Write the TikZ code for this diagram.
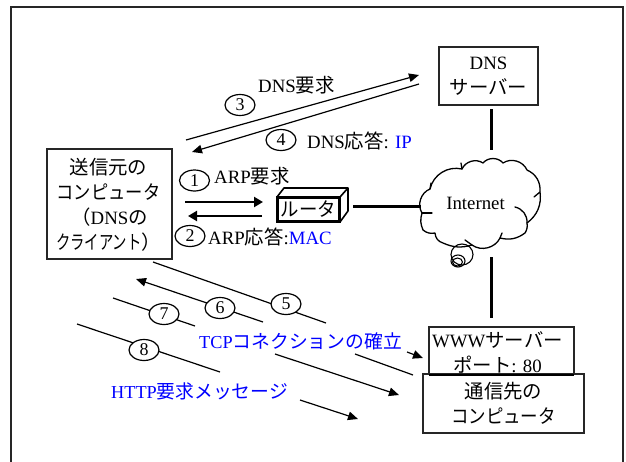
\documentclass[tikz,border=0pt]{standalone}
\usepackage{fontspec}
\setmainfont[Scale=0.97]{Liberation Serif}
\newfontfamily\jpf{Noto Sans CJK JP}
\usetikzlibrary{shapes.geometric,arrows.meta}
\newcommand{\J}[1]{{\jpf #1}}
\newcommand{\JX}[2]{\scalebox{#1}[1]{\jpf #2}}
\newcommand{\Dg}[1]{\raisebox{-2.5pt}{#1}}
\definecolor{tblue}{RGB}{0,0,255}
\tikzset{
  lab/.style={inner sep=0pt,font=\fontsize{19.4}{25}\selectfont,align=center},
  bluelab/.style={inner sep=0pt,font=\fontsize{18.8}{25}\selectfont,align=center,text=tblue},
  box/.style={draw=black!85,line width=1.4pt,fill=white,inner sep=0pt},
  num/.style={ellipse,draw=black,line width=1.2pt,fill=white,inner sep=0pt,minimum width=30pt,minimum height=21pt,font=\fontsize{18.5}{20}\selectfont},
  thin arrow/.style={line width=1.2pt,-{Triangle[length=10pt,width=8.5pt]}},
  thin line/.style={line width=1.2pt},
  thick arrow/.style={line width=2.4pt,-{Triangle[length=9pt,width=10pt]}},
  wire/.style={line width=3pt},
  cloudline/.style={line width=1.3pt,line join=round,line cap=round}
}
\begin{document}
\begin{tikzpicture}[x=1pt,y=-1pt]
\useasboundingbox (0,0) rectangle (626,461);
\fill[white] (0,0) rectangle (626,461);
% frame
\draw[line width=1.5pt,black!85] (11,470) -- (11,7) -- (623,7) -- (623,470);
\clip (0,0) rectangle (626,461);

% boxes
\node[box,minimum width=125pt,minimum height=110pt] (src) at (109.5,204) {};
\node[lab] (srct) at (108.5,204.5) {\J{送信元の}\\\JX{0.89}{コンピュータ}\\\hspace*{2pt}\J{（}DNS\J{の}\\\JX{0.74}{クライアント}\J{）}};
\node[box,minimum width=99pt,minimum height=58pt,lab,box] (dns) at (488.5,76) {DNS\\\J{サーバー}};
\node[box,minimum width=145pt,minimum height=48pt] (www) at (501.5,351) {};
\node[lab] (wwwt) at (497.5,352.5) {WWW\J{サーバー}\\\J{ポート}: 80};
\node[box,minimum width=161pt,minimum height=59pt,lab,box] (dst) at (503.5,403.5) {\J{通信先の}\\\JX{0.9}{コンピュータ}};
\draw[line width=2pt] (429,375) -- (574,375);

% router
\draw[line width=1.6pt,fill=white,line join=round] (277,197) -- (284,188) -- (348,188) -- (348,211) -- (340,222);
\draw[line width=1.6pt] (340,197) -- (348,188);
\node[draw=black,line width=2.6pt,fill=white,inner sep=0pt,minimum width=62pt,minimum height=24pt,lab] (rt) at (308.5,209.5) {\JX{0.95}{ルータ}};

% cloud
\coordinate (cw) at (421,206);
\coordinate (cn) at (491,150);
\coordinate (cs) at (491,257);
\node[lab] (net) at (475.5,203) {Internet};
\draw[cloudline] (422,213) to[bend left=50] (430,189)
  to[bend left=45] (462,169) to[bend left=50] (483,163)
  to[bend left=50] (503,163) to[bend left=50] (527,170)
  to[bend left=35] (540,192) to[bend left=30] (527,223)
  to[bend left=20] (525,233) to[bend left=25] (500,238)
  to[bend left=50] (472,245) to[bend left=20] (443,243)
  to[bend left=35] (435,233) to[bend left=25] (423,230)
  to[bend left=20] (422,213);
\draw[cloudline] (422,213) -- (432,213);
\draw[cloudline] (430,189) -- (431,183);
\draw[cloudline] (462,169) -- (461,163);
\draw[cloudline] (515,207) to[bend left=40] (527,223);
\draw[cloudline] (500,238) -- (502,233);
\draw[cloudline] (540,192) -- (534,197);
\draw[cloudline] (465,240) -- (472,245);
\draw[line width=1.1pt] (462,254.5) circle[x radius=11pt,y radius=10.5pt];
\draw[line width=1.1pt] (458,261) circle[x radius=7pt,y radius=6pt];
\draw[line width=1.1pt] (457.5,262) circle[x radius=5pt,y radius=4pt];

% wires
\coordinate (dnsw) at (491,109);
\coordinate (wwwn) at (491,318);
\coordinate (rte) at (353,206);
\draw[wire] (dnsw) -- (cn);
\draw[wire] (cs) -- (wwwn);
\draw[wire] (rte) -- (cw);

% DNS arrows
\coordinate (a3s) at (186,140);
\coordinate (a3e) at (419,75);
\coordinate (a4s) at (419,84);
\coordinate (a4e) at (192,152);
\draw[thin arrow] (a3s) -- (a3e);
\draw[thin arrow] (a4s) -- (a4e);

% ARP arrows
\coordinate (a1s) at (185,202);
\coordinate (a1e) at (263,202);
\coordinate (a2s) at (262,216);
\coordinate (a2e) at (188,216);
\draw[thick arrow] (a1s) -- (a1e);
\draw[thick arrow] (a2s) -- (a2e);

% diagonal arrows
\coordinate (a5s) at (153,262); \coordinate (a5m) at (326,323);
\coordinate (a5r) at (407,352); \coordinate (a5e) at (423,358);
\draw[thin line] (a5s) -- (a5m);
\draw[thin arrow] (a5r) -- (a5e);
\coordinate (a6s) at (263,322); \coordinate (a6e) at (136,279);
\coordinate (a6r) at (355,354); \coordinate (a6f) at (413,375);
\draw[thin arrow] (a6s) -- (a6e);
\draw[thin line] (a6r) -- (a6f);
\coordinate (a7s) at (113,298); \coordinate (a7m) at (195,326);
\coordinate (a7r) at (275,354); \coordinate (a7e) at (399,395);
\draw[thin line] (a7s) -- (a7m);
\draw[thin arrow] (a7r) -- (a7e);
\coordinate (a8s) at (77,324); \coordinate (a8m) at (220,372);
\coordinate (a8r) at (300,400); \coordinate (a8e) at (358,419);
\draw[thin line] (a8s) -- (a8m);
\draw[thin arrow] (a8r) -- (a8e);

% numbers
\node[num] (n1) at (194.5,180.5) {\Dg{1}};
\node[num] (n2) at (190,236) {\Dg{2}};
\node[num] (n3) at (240,105) {\Dg{3}};
\node[num] (n4) at (281,140) {\Dg{4}};
\node[num] (n5) at (286,304) {\Dg{5}};
\node[num] (n6) at (220,308) {\Dg{6}};
\node[num] (n7) at (164,314) {\Dg{7}};
\node[num] (n8) at (144,350) {\Dg{8}};

% labels
\node[lab,anchor=west] (l3) at (258,85) {DNS\J{要求}};
\node[lab,anchor=west] (l4) at (307,141) {DNS\J{応答}: \textcolor{tblue}{IP}};
\node[lab,anchor=west] (l1) at (214,176) {ARP\J{要求}};
\node[lab,anchor=west] (l2) at (208,237) {ARP\J{応答}:\textcolor{tblue}{MAC}};
\node[bluelab,anchor=west] (l5) at (199,341) {TCP\J{コネクションの確立}};
\node[bluelab,anchor=west] (l8) at (111,391) {HTTP\J{要求メッセージ}};
\end{tikzpicture}
\end{document}
